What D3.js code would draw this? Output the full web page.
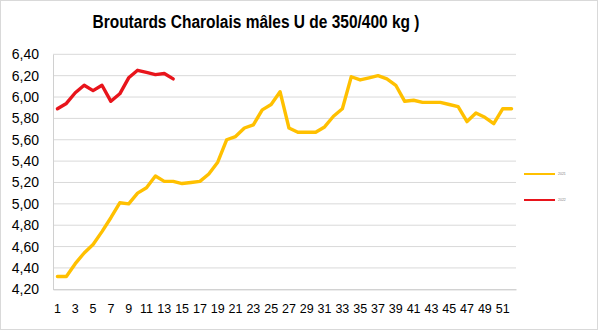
<!DOCTYPE html>
<html>
<head>
<meta charset="utf-8">
<script src="https://cdn.jsdelivr.net/npm/d3@7"></script>
<style>
  html, body { margin: 0; padding: 0; background: #fff; }
  svg { display: block; font-family: "Liberation Sans", Arial, sans-serif; }
</style>
</head>
<body>
<svg id="chart" width="600" height="332"></svg>
<script>
// Weekly price (€/kg) of Charolais male weanlings, grade U, 350/400 kg
const weeks = d3.range(1, 53);
const seriesNames = ["2021", "2022"];
const valuesPrev = [
  4.32, 4.32, 4.44, 4.54, 4.62, 4.74, 4.87, 5.01, 5.00, 5.10,
  5.15, 5.26, 5.21, 5.21, 5.19, 5.20, 5.21, 5.28, 5.39, 5.60,
  5.63, 5.71, 5.74, 5.88, 5.93, 6.05, 5.71, 5.67, 5.67, 5.67,
  5.72, 5.82, 5.89, 6.19, 6.16, 6.18, 6.20, 6.17, 6.11, 5.96,
  5.97, 5.95, 5.95, 5.95, 5.93, 5.91, 5.77, 5.85, 5.81, 5.75,
  5.89, 5.89
];
const valuesCur = [
  5.89, 5.94, 6.04, 6.11, 6.06, 6.11, 5.96, 6.03, 6.18, 6.25,
  6.23, 6.21, 6.22, 6.17
];
const yTicks = [4.2, 4.4, 4.6, 4.8, 5.0, 5.2, 5.4, 5.6, 5.8, 6.0, 6.2, 6.4];
const xTickLabels = weeks.filter(w => w % 2 === 1);
const colors = ["#FFC000", "#E8141B"];

const svg = d3.select("#chart");
const plot = { left: 53, right: 516, top: 54.3, bottom: 289.3 };

// outer chart frame
svg.append("rect")
  .attr("x", 0.5).attr("y", 0.5)
  .attr("width", 597).attr("height", 329)
  .attr("fill", "#fff").attr("stroke", "#d9d9d9");

const x = d3.scaleBand().domain(weeks).range([plot.left, plot.right]);
const y = d3.scaleLinear().domain([4.2, 6.4]).range([plot.bottom, plot.top]);
const fmt = v => d3.format(".2f")(v).replace(".", ",");

// horizontal gridlines
svg.append("g")
  .selectAll("line")
  .data(yTicks.slice(1))
  .join("line")
  .attr("x1", plot.left).attr("x2", plot.right)
  .attr("y1", d => y(d)).attr("y2", d => y(d))
  .attr("stroke", "#d9d9d9").attr("stroke-width", 1);

// y axis
const yAxis = svg.append("g")
  .attr("transform", `translate(${plot.left},0)`)
  .call(d3.axisLeft(y).tickValues(yTicks).tickFormat(fmt).tickSize(0).tickPadding(14));
yAxis.select(".domain").attr("stroke", "#d0d0d0");
yAxis.selectAll("text")
  .attr("font-size", 14).attr("fill", "#000")
  .attr("font-family", "Liberation Sans, Arial, sans-serif");

// x axis
const xAxis = svg.append("g")
  .attr("transform", `translate(0,${plot.bottom})`)
  .call(d3.axisBottom(x).tickValues(xTickLabels).tickSize(0).tickPadding(15));
xAxis.select(".domain").attr("stroke", "#bfbfbf");
xAxis.selectAll("text")
  .attr("font-size", 12.5).attr("fill", "#000")
  .attr("font-family", "Liberation Sans, Arial, sans-serif");

// series lines
const line = d3.line()
  .x((d, i) => x(weeks[i]) + x.bandwidth() / 2)
  .y(d => y(d));

[valuesPrev, valuesCur].forEach((vals, k) => {
  svg.append("path")
    .datum(vals)
    .attr("d", line)
    .attr("fill", "none")
    .attr("stroke", colors[k])
    .attr("stroke-width", 3.4)
    .attr("stroke-linejoin", "round")
    .attr("stroke-linecap", "round");
});

// legend
const legend = svg.append("g");
seriesNames.forEach((name, k) => {
  const ly = 174 + k * 26;
  legend.append("line")
    .attr("x1", 524).attr("x2", 555)
    .attr("y1", ly).attr("y2", ly)
    .attr("stroke", colors[k]).attr("stroke-width", 2);
  legend.append("text")
    .attr("x", 558).attr("y", ly + 1)
    .attr("font-size", 3.5).attr("fill", "#7f7f7f")
    .text(name);
});

// title
svg.append("text")
  .attr("x", 256).attr("y", 28)
  .attr("text-anchor", "middle")
  .attr("font-size", 18)
  .attr("font-weight", "bold")
  .attr("fill", "#000")
  .attr("textLength", 327)
  .attr("lengthAdjust", "spacingAndGlyphs")
  .text("Broutards Charolais mâles U de 350/400 kg )");
</script>
</body>
</html>
